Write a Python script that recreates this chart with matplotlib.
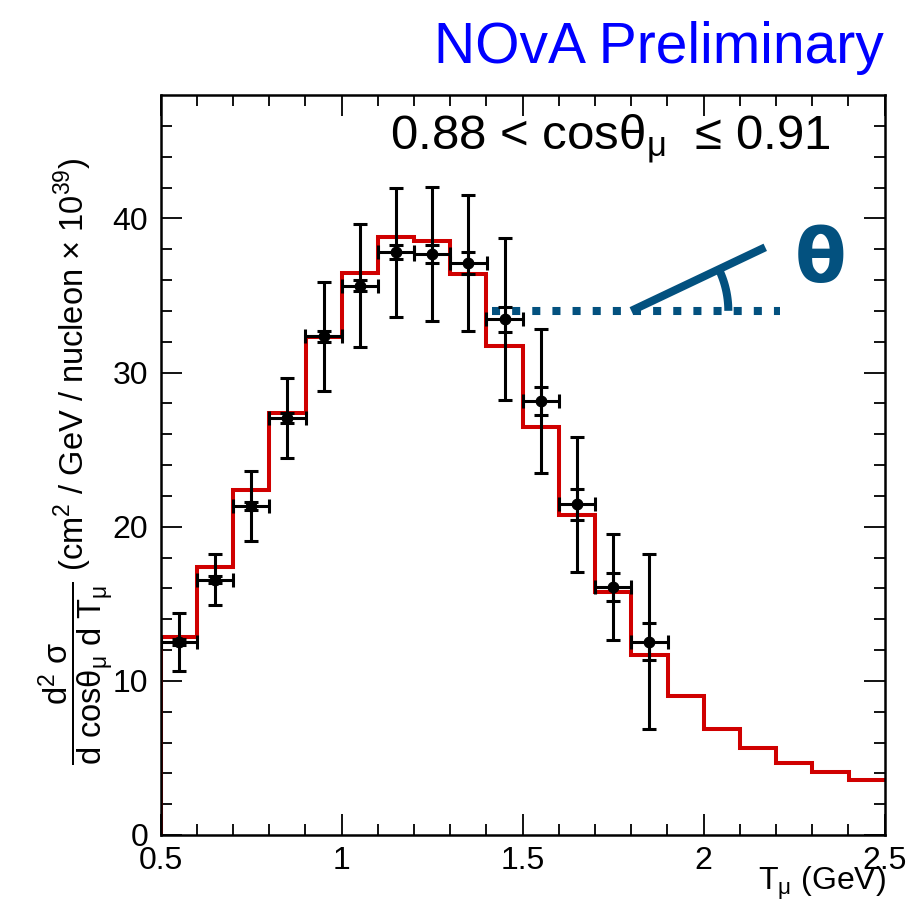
import numpy as np
import matplotlib
matplotlib.use("Agg")
import matplotlib.pyplot as plt

plt.rcParams['font.family'] = ['Liberation Sans', 'DejaVu Sans']
plt.rcParams['mathtext.fontset'] = 'custom'
plt.rcParams['mathtext.rm'] = 'Liberation Sans'
plt.rcParams['mathtext.it'] = 'Liberation Sans'
plt.rcParams['mathtext.bf'] = 'Liberation Sans:bold'

# MC prediction histogram (red), bins of 0.1 GeV
edges = np.round(np.arange(0.5, 2.51, 0.1), 2)
mc = [12.85, 17.4, 22.4, 27.35, 32.3, 36.47, 38.82, 38.5, 36.4, 31.7,
      26.46, 20.78, 15.77, 11.67, 9.0, 6.87, 5.62, 4.69, 4.06, 3.56]

# data points
tmu = [0.55, 0.65, 0.75, 0.85, 0.95, 1.05, 1.15, 1.25, 1.35, 1.45, 1.55, 1.65, 1.75, 1.85]
xs = [12.53, 16.57, 21.35, 27.05, 32.34, 35.64, 37.8, 37.7, 37.1, 33.46, 28.15, 21.45, 16.09, 12.53]
tot_err = [1.9, 1.63, 2.28, 2.6, 3.56, 4.0, 4.2, 4.35, 4.4, 5.25, 4.67, 4.37, 3.43, 5.68]
stat_err = [0.2, 0.2, 0.25, 0.3, 0.38, 0.37, 0.45, 0.57, 0.7, 0.82, 0.9, 1.0, 0.9, 1.2]
bin_half = 0.05

blue = '#03517f'

fig = plt.figure(figsize=(9.07, 9.07), dpi=100)
ax = fig.add_axes([160.7/907, 72/907, 724/907, 740/907])

ax.stairs(mc, edges, baseline=None, color='#d00000', lw=2.9, zorder=2)
ax.vlines(edges[0], 0, mc[0], color='#d00000', lw=2.9, zorder=2)

ax.errorbar(tmu, xs, yerr=tot_err, xerr=bin_half, fmt='o', color='black',
            ms=7.5, lw=2.2, capsize=5, capthick=2.2, zorder=4)
ax.errorbar(tmu, xs, yerr=stat_err, fmt='none', ecolor='black',
            lw=2.2, capsize=5, capthick=2.2, zorder=4)

# angle sketch
ax.plot([1.414, 2.21], [34, 34], color=blue, lw=5.8,
        linestyle=(0, (1, 1.5)), dash_capstyle='butt', zorder=3)
ax.plot([1.80, 2.17], [34, 38.12], color=blue, lw=5.8, solid_capstyle='butt', zorder=3)
phi = np.linspace(0, np.deg2rad(26.8), 40)
ax.plot(1.80 + 0.268 * np.cos(phi), 34 + 6.25 * np.sin(phi), color=blue, lw=5.8,
        solid_capstyle='butt', zorder=3)
fig.text(821/907, 1 - 262/907, 'θ', family='DejaVu Sans', fontweight='bold',
         fontsize=54, color=blue, ha='center', va='center')

ax.set_xlim(0.5, 2.5)
ax.set_ylim(0, 48)
ax.set_xticks([0.5, 1, 1.5, 2, 2.5])
ax.set_xticklabels(['0.5', '1', '1.5', '2', '2.5'])
ax.set_xticks(np.arange(0.5, 2.5, 0.1), minor=True)
ax.set_yticks([0, 10, 20, 30, 40])
ax.set_yticks(np.arange(0, 48, 2), minor=True)
ax.tick_params(which='both', direction='in', top=True, right=True, labelsize=23, width=1.3)
ax.tick_params(which='major', length=15)
ax.tick_params(which='minor', length=8)
ax.tick_params(axis='x', pad=8)
ax.tick_params(axis='y', pad=9)
for s in ax.spines.values():
    s.set_linewidth(1.8)

fig.text(886/907, 1 - 883/907, r'T$_{\mu}$ (GeV)', fontsize=23, ha='right', va='center')
fig.text(76/907, 1 - 158/907,
         r'$\dfrac{\mathrm{d^{2}\ \sigma}}{\mathrm{d\ cos\theta_{\mu}\ d\ T_{\mu}}}$'
         r' (cm$^{2}$ / GeV / nucleon $\times$ 10$^{39}$)',
         fontsize=23.5, rotation=90, ha='center', va='top')

fig.text(884/907, 1 - 63/907, 'NOvA Preliminary', color='#0000ff', fontsize=41,
         ha='right', va='baseline')
fig.text(390/907, 1 - 150/907, r'0.88 < cos$\theta_{\mu}$  ≤ 0.91', fontsize=35.5,
         ha='left', va='baseline')

plt.savefig('out.png', dpi=100)
